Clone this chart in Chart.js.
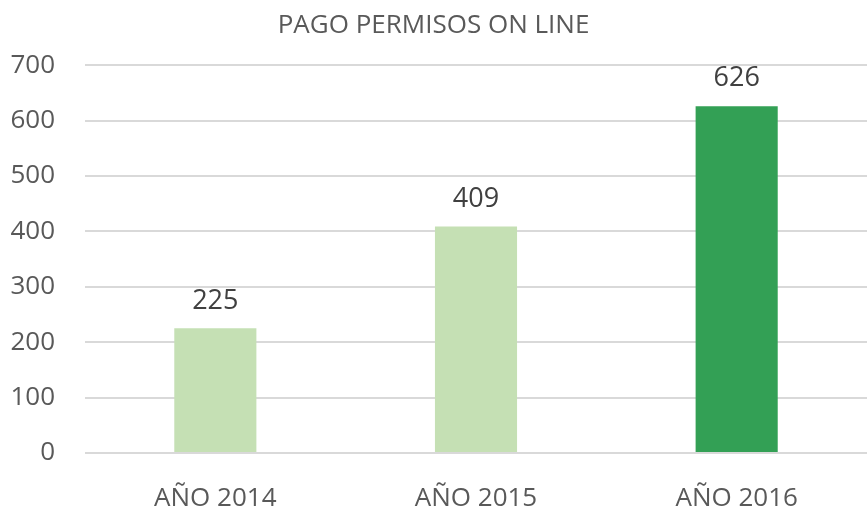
<!DOCTYPE html>
<html>
<head>
<meta charset="utf-8">
<script src="https://cdn.jsdelivr.net/npm/chart.js@4/dist/chart.umd.min.js"></script>
<style>
  html, body { margin:0; padding:0; background:#fff; }
  #wrap { width:867px; height:508px; }
</style>
</head>
<body>
<div id="wrap"><canvas id="permisosChart" width="867" height="508"></canvas></div>
<script>
// chart data
const years = ['AÑO 2014', 'AÑO 2015', 'AÑO 2016'];
const pagos = [225, 409, 626];
const barColors = ['#C5E0B4', '#C5E0B4', '#33A055'];
const yTicks = [0, 100, 200, 300, 400, 500, 600, 700];

const FONT = "'Open Sans', sans-serif";
const GREY = '#595959';

// value labels above each bar
const barLabels = {
  id: 'barLabels',
  afterDatasetsDraw(chart) {
    const c = chart.ctx;
    c.save();
    c.font = '27px ' + FONT;
    c.fillStyle = '#404040';
    c.textAlign = 'center';
    c.textBaseline = 'bottom';
    chart.getDatasetMeta(0).data.forEach((bar, i) => {
      c.fillText(pagos[i], bar.x, bar.y - 14);
    });
    c.restore();
  }
};

const ctx = document.getElementById('permisosChart').getContext('2d');
const chart = new Chart(ctx, {
  type: 'bar',
  data: {
    labels: years,
    datasets: [{ data: pagos, backgroundColor: barColors, barPercentage: 1, categoryPercentage: 0.315 }]
  },
  options: {
    responsive: false,
    animation: false,
    layout: { padding: 0 },
    plugins: {
      legend: { display: false },
      tooltip: { enabled: false },
      title: {
        display: true,
        text: 'PAGO PERMISOS ON LINE',
        color: GREY,
        font: { family: FONT, size: 26, weight: 'normal' },
        padding: { top: 10, bottom: 24 }
      }
    },
    scales: {
      x: {
        afterFit: axis => { axis.height = 55; },
        grid: { display: false },
        border: { display: false },
        ticks: { color: GREY, font: { family: FONT, size: 26 }, padding: 22 }
      },
      y: {
        min: 0,
        max: 700,
        afterBuildTicks: axis => { axis.ticks = yTicks.map(v => ({ value: v })); },
        afterFit: axis => { axis.width = 85; },
        grid: { color: '#D9D9D9', lineWidth: 2, drawTicks: false },
        border: { display: false },
        ticks: { color: GREY, font: { family: FONT, size: 26 }, padding: 30 }
      }
    }
  },
  plugins: [barLabels]
});
</script>
</body>
</html>
